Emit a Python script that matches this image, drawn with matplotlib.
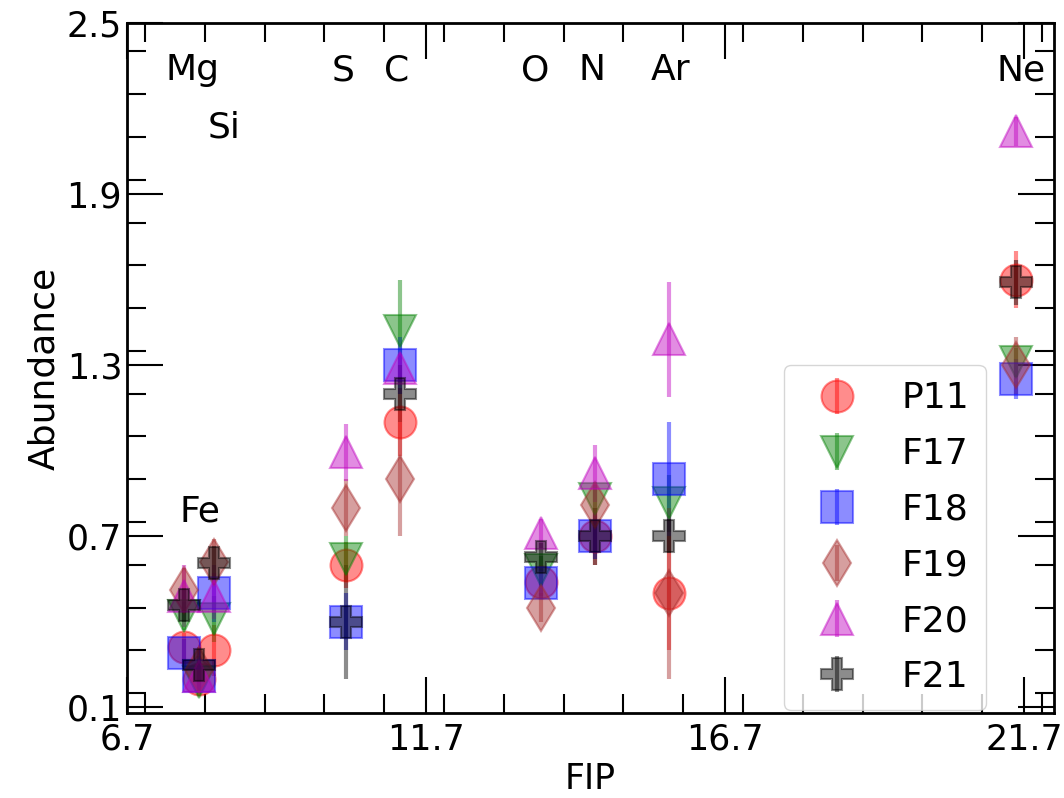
import matplotlib
matplotlib.use("Agg")
import matplotlib.pyplot as plt
from matplotlib.ticker import MultipleLocator

# element order: Mg, Fe, Si, S, C, O, N, Ar, Ne
elements = ["Mg", "Fe", "Si", "S", "C", "O", "N", "Ar", "Ne"]
fip = [7.65, 7.90, 8.15, 10.36, 11.26, 13.62, 14.53, 15.76, 21.56]

series_names = ["P11", "F17", "F18", "F19", "F20", "F21"]
p11 = [0.31, 0.20, 0.30, 0.60, 1.10, 0.54, 0.70, 0.50, 1.60]
f17 = [0.42, 0.19, 0.41, 0.62, 1.42, 0.58, 0.83, 0.815, 1.31]
f18 = [0.29, 0.21, 0.50, 0.40, 1.30, 0.535, 0.70, 0.90, 1.25]
f19 = [0.51, 0.23, 0.61, 0.80, 0.90, 0.45, 0.81, 0.50, 1.30]
f20 = [0.49, 0.21, 0.49, 0.995, 1.29, 0.71, 0.92, 1.39, 2.12]
f21 = [0.46, 0.25, 0.605, 0.40, 1.20, 0.627, 0.70, 0.70, 1.59]

p11_err = [0.05, 0.05, 0.09, 0.08, 0.12, 0.05, 0.10, 0.20, 0.10]
f17_err = [0.05, 0.05, 0.08, 0.08, 0.18, 0.05, 0.05, 0.10, 0.05]
f18_err = [0.05, 0.05, 0.10, 0.10, 0.10, 0.05, 0.08, 0.20, 0.07]
f19_err = [0.08, 0.05, 0.08, 0.10, 0.20, 0.05, 0.08, 0.30, 0.10]
f20_err = [0.11, 0.05, 0.08, 0.10, 0.05, 0.05, 0.10, 0.20, 0.05]
f21_err = [0.06, 0.06, 0.06, 0.20, 0.10, 0.05, 0.10, 0.06, 0.08]

# element label positions (x, baseline y)
label_x = [7.79, 7.92, 8.32, 10.31, 11.20, 13.52, 14.48, 15.78, 21.65]
label_y = [2.30, 0.75, 2.10, 2.30, 2.30, 2.30, 2.30, 2.30, 2.30]

values = [p11, f17, f18, f19, f20, f21]
errors = [p11_err, f17_err, f18_err, f19_err, f20_err, f21_err]
colors = ["r", "g", "b", "brown", "m", "k"]
markers = ["o", "v", "s", "d", "^", "P"]

fig = plt.figure(figsize=(10.64, 7.98), dpi=100)
ax = fig.add_axes([0.1194, 0.1065, 0.8712, 0.8647])

for name, vals, errs, col, mk in zip(series_names, values, errors, colors, markers):
    ax.errorbar(fip, vals, yerr=errs, fmt=mk, color=col, ecolor=col,
                markersize=23, elinewidth=3, alpha=0.45, label=name,
                markeredgewidth=1.5)

for el, lx, ly in zip(elements, label_x, label_y):
    ax.text(lx, ly, el, ha="center", va="baseline", fontsize=26)

ax.set_xlim(6.7, 22.2)
ax.set_ylim(0.08, 2.5)
ax.set_xticks([6.7, 11.7, 16.7, 21.7])
ax.set_yticks([0.1, 0.7, 1.3, 1.9, 2.5])
ax.xaxis.set_minor_locator(MultipleLocator(1.0))
ax.yaxis.set_minor_locator(MultipleLocator(0.15))
ax.tick_params(which="both", direction="in", top=True, right=True,
               labelsize=25, width=1.5)
ax.tick_params(which="major", length=26)
ax.tick_params(which="minor", length=14)
ax.tick_params(axis="x", which="major", pad=7)
for sp in ax.spines.values():
    sp.set_linewidth(2)

ax.set_xlabel("FIP", fontsize=25, labelpad=4)
ax.set_ylabel("Abundance", fontsize=26, labelpad=4)

ax.legend(loc="upper left", bbox_to_anchor=(0.709, 0.504), borderaxespad=0,
          fontsize=26, labelspacing=0.6, handletextpad=0.8, handlelength=2.0,
          borderpad=0.45, frameon=True)

fig.savefig("out.png", dpi=100)
